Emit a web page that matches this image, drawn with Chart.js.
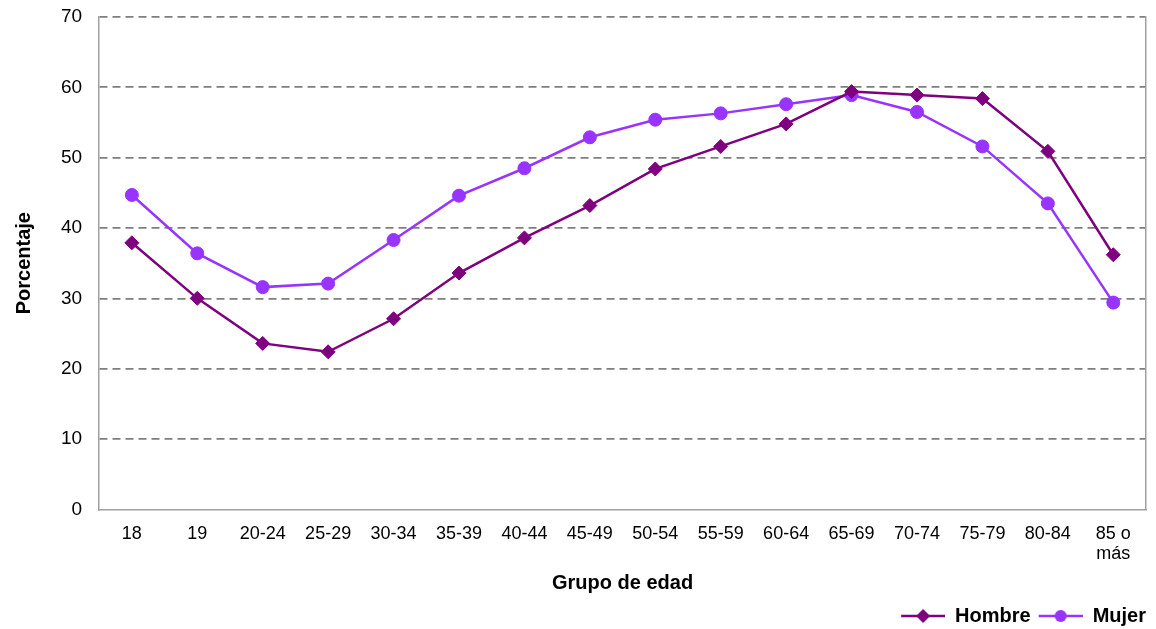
<!DOCTYPE html>
<html>
<head>
<meta charset="utf-8">
<script src="https://cdn.jsdelivr.net/npm/chart.js@4"></script>
<style>
  html, body { margin: 0; padding: 0; background: #fff; }
  #wrap { width: 1156px; height: 629px; }
</style>
</head>
<body>
<div id="wrap"><canvas id="chart"></canvas></div>
<script>
const ageGroups = [
  "18", "19", "20-24", "25-29", "30-34", "35-39", "40-44", "45-49",
  "50-54", "55-59", "60-64", "65-69", "70-74", "75-79", "80-84", ["85 o", "más"],
]
const hombre = [37.9, 30.0, 23.6, 22.4, 27.1, 33.6, 38.6, 43.2, 48.4, 51.6, 54.8, 59.4, 58.9, 58.4, 50.9, 36.2]
const mujer = [44.7, 36.4, 31.6, 32.1, 38.3, 44.6, 48.5, 52.9, 55.4, 56.3, 57.6, 58.9, 56.5, 51.6, 43.5, 29.4]
const yTicks = [0, 10, 20, 30, 40, 50, 60, 70]

const hombreColor = "#7f007f"
const mujerColor = "#9933ff"
const font = "'Liberation Sans', Arial, sans-serif"

// little line + marker images for the legend (8px blank on the left as item gap)
const legendIcon = (color, shape) => {
  const c = document.createElement("canvas")
  c.width = 52
  c.height = 16
  const g = c.getContext("2d")
  g.strokeStyle = color
  g.lineWidth = 2.5
  g.beginPath()
  g.moveTo(8, 8)
  g.lineTo(52, 8)
  g.stroke()
  g.fillStyle = color
  g.beginPath()
  if (shape === "diamond") {
    g.moveTo(30, 1)
    g.lineTo(37, 8)
    g.lineTo(30, 15)
    g.lineTo(23, 8)
    g.closePath()
  } else {
    g.arc(30, 8, 6, 0, Math.PI * 2)
  }
  g.fill()
  return c
}

const data = {
  labels: ageGroups,
  datasets: [
    {
      label: "Hombre",
      data: hombre,
      borderColor: hombreColor,
      backgroundColor: hombreColor,
      borderWidth: 2.5,
      pointStyle: "rectRot",
      pointRadius: 7,
      pointBorderWidth: 1,
      tension: 0,
    },
    {
      label: "Mujer",
      data: mujer,
      borderColor: mujerColor,
      backgroundColor: mujerColor,
      borderWidth: 2.5,
      pointStyle: "circle",
      pointRadius: 6.5,
      pointBorderWidth: 1,
      tension: 0,
    },
  ],
}

const icons = [legendIcon(hombreColor, "diamond"), legendIcon(mujerColor, "circle")]

const config = {
  type: "line",
  data: data,
  options: {
    responsive: true,
    maintainAspectRatio: false,
    animation: false,
    layout: {
      padding: { top: 17, right: 10, left: 12, bottom: -7 },
    },
    plugins: {
      tooltip: { enabled: false },
      legend: {
        position: "bottom",
        align: "end",
        labels: {
          usePointStyle: true,
          pointStyleWidth: 52,
          padding: 0,
          color: "#000",
          font: { family: font, size: 20, weight: "bold" },
          generateLabels: (chart) =>
            chart.data.datasets.map((ds, i) => ({
              text: ds.label,
              pointStyle: icons[i],
              fillStyle: ds.borderColor,
              strokeStyle: ds.borderColor,
              lineWidth: 0,
              datasetIndex: i,
              fontColor: "#000",
            })),
        },
      },
    },
    scales: {
      x: {
        offset: true,
        grid: { display: false },
        border: { display: true, color: "#a0a0a0", width: 1.5 },
        ticks: {
          color: "#000",
          padding: 7,
          maxRotation: 0,
          autoSkip: false,
          font: { family: font, size: 18, lineHeight: 1.1 },
        },
        title: {
          display: true,
          text: "Grupo de edad",
          color: "#000",
          padding: { top: 0, bottom: 11 },
          font: { family: font, size: 20, weight: "bold" },
        },
      },
      y: {
        min: 0,
        max: 70,
        afterBuildTicks: (scale) => {
          scale.ticks = yTicks.map((v) => ({ value: v }))
        },
        grid: {
          drawTicks: true,
          tickLength: 14,
          tickColor: "rgba(0,0,0,0)",
          color: (ctx) => (ctx.tick && ctx.tick.value === 0 ? "rgba(0,0,0,0)" : "#7f7f7f"),
          lineWidth: 1.7,
        },
        border: { display: true, color: "#a0a0a0", width: 1.5, dash: [8, 5] },
        ticks: {
          color: "#000",
          padding: 3,
          font: { family: font, size: 19 },
        },
        title: {
          display: true,
          text: "Porcentaje",
          color: "#000",
          padding: { top: 0, bottom: 22 },
          font: { family: font, size: 20, weight: "bold" },
        },
      },
      yRight: {
        position: "right",
        min: 0,
        max: 70,
        grid: { display: false, drawTicks: false },
        ticks: { display: false },
        border: { display: true, color: "#a0a0a0", width: 1.5 },
      },
    },
  },
}

new Chart(document.getElementById("chart"), config)
</script>
</body>
</html>
